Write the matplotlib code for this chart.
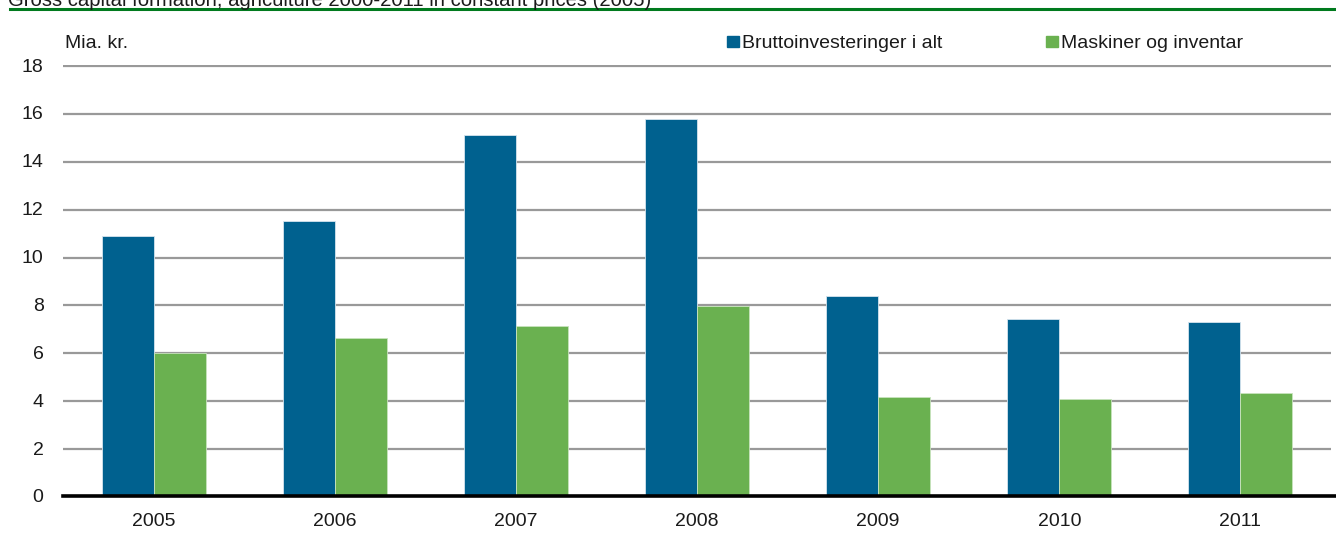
import matplotlib
matplotlib.use("Agg")
import matplotlib.pyplot as plt
import numpy as np
from matplotlib.patches import Rectangle
from matplotlib.lines import Line2D

years = ["2005", "2006", "2007", "2008", "2009", "2010", "2011"]
brutto = [10.87, 11.48, 15.07, 15.75, 8.35, 7.4, 7.27]
maskiner = [5.98, 6.6, 7.1, 7.95, 4.15, 4.05, 4.3]
series_names = ["Bruttoinvesteringer i alt", "Maskiner og inventar"]
yticks = [0, 2, 4, 6, 8, 10, 12, 14, 16, 18]

BLUE = "#00618F"
GREEN = "#6AB150"
TXT = "#1a1a1a"
FS = 14

plt.rcParams['font.family'] = ['Liberation Sans', 'DejaVu Sans']

W, H = 1336, 534
fig = plt.figure(figsize=(W / 100, H / 100), dpi=100)

ax_left, ax_right = 63, 1331
ax_top, ax_bot = 65, 496
ax = fig.add_axes([ax_left / W, 1 - ax_bot / H, (ax_right - ax_left) / W, (ax_bot - ax_top) / H])

x = np.arange(len(years))
bw = 0.287
ax.bar(x - bw / 2, brutto, width=bw, color=BLUE, edgecolor="#d6e4ee", linewidth=0.6, zorder=3)
ax.bar(x + bw / 2, maskiner, width=bw, color=GREEN, edgecolor="#c8e3bd", linewidth=0.6, zorder=3)

ax.set_xlim(-0.5, len(years) - 0.5)
ax.set_ylim(0, 18)
ax.set_yticks(yticks)
ax.set_yticklabels([str(t) for t in yticks], fontsize=FS)
ax.set_xticks(x)
ax.set_xticklabels(years, fontsize=FS)
ax.tick_params(axis='both', length=0, colors=TXT)
ax.tick_params(axis='y', pad=14)
ax.tick_params(axis='x', pad=12)

for t in yticks[1:]:
    yy = round(ax_bot - (ax_bot - ax_top) * t / 18) + 0.5
    ax.add_line(Line2D([ax_left / W, 1.0], [1 - yy / H] * 2,
                       transform=fig.transFigure, color="#999999", linewidth=1.6, zorder=1))
for s in ["top", "right", "left", "bottom"]:
    ax.spines[s].set_visible(False)
fig.add_artist(Line2D([ax_left / W, 1.0], [1 - ax_bot / H] * 2, transform=fig.transFigure,
                      color="black", linewidth=2.6, zorder=5))

# header
fig.add_artist(Line2D([10 / W, 1.0], [1 - 9 / H] * 2, transform=fig.transFigure,
                      color="#007A1E", linewidth=2.2))
fig.text(8 / W, 1 - 1 / H, "Gross capital formation, agriculture 2000-2011 in constant prices (2005)",
         fontsize=14.6, va="center", ha="left", color=TXT)

fig.text(65 / W, 1 - 44 / H, "Mia. kr.", fontsize=FS, va="center", ha="left", color=TXT)

# legend
for (x0, name, c) in [(727, series_names[0], BLUE), (1046, series_names[1], GREEN)]:
    fig.add_artist(Rectangle((x0 / W, 1 - 47 / H), 12 / W, 11 / H, transform=fig.transFigure,
                             color=c))
    fig.text((x0 + 15) / W, 1 - 43 / H, name, fontsize=FS, va="center", ha="left", color=TXT)

fig.savefig("out.png", dpi=100)
